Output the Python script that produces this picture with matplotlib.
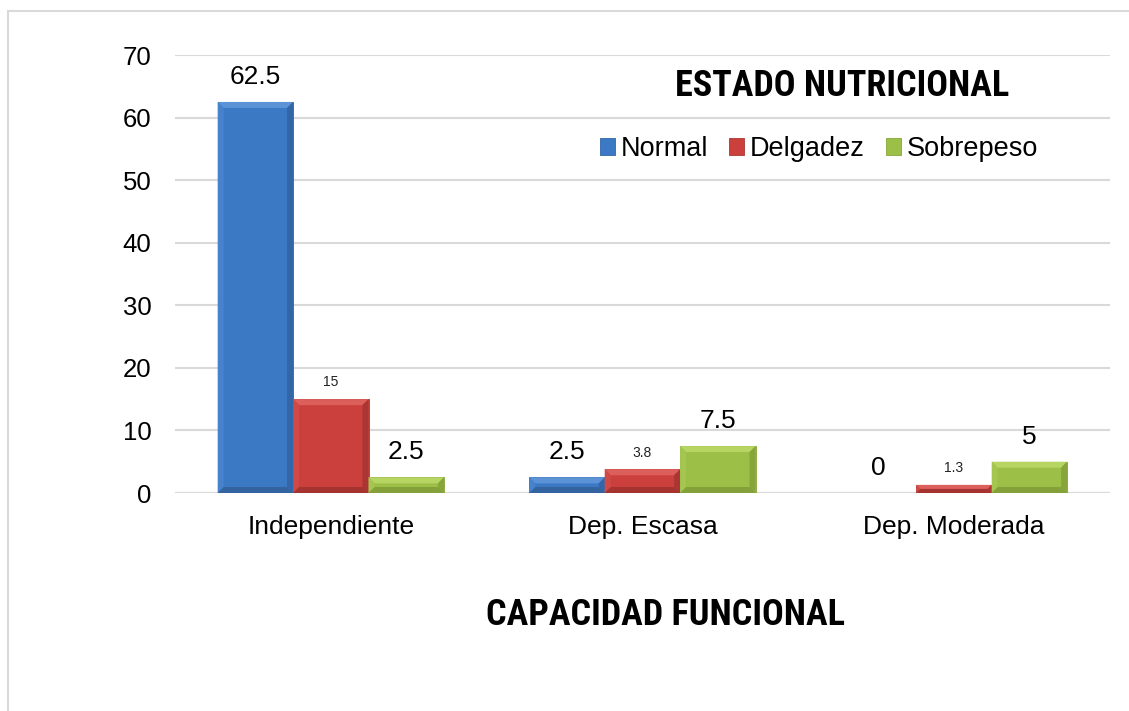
import matplotlib
matplotlib.use('Agg')
import matplotlib.pyplot as plt
import numpy as np
from matplotlib import font_manager
from matplotlib.patches import Rectangle, Polygon

# data
categories = ['Independiente', 'Dep. Escasa', 'Dep. Moderada']
series = ['Normal', 'Delgadez', 'Sobrepeso']
normal = [62.5, 2.5, 0]
delgadez = [15, 3.8, 1.3]
sobrepeso = [2.5, 7.5, 5]
small_label = [False, True, False]   # Delgadez labels are written small

# face, top, left, right, bottom
shades = [['#3c79c4', '#5b93d6', '#4683cc', '#3266a8', '#33649f'],
          ['#cb403d', '#dc5f5c', '#cf4a47', '#a93633', '#a53431'],
          ['#9cbf47', '#b7d563', '#a4c650', '#86a53b', '#83a039']]

names = {f.name for f in font_manager.fontManager.ttflist}
narrow = None
for cand in ['Liberation Sans Narrow', 'Arial Narrow', 'Roboto Condensed', 'Open Sans Condensed']:
    if cand in names:
        narrow = cand
        break
plt.rcParams['font.family'] = ['Liberation Sans', 'DejaVu Sans']

fig = plt.figure(figsize=(11.29, 7.11), dpi=100)
ax = fig.add_axes([0.155, 0.3066, 0.828, 0.616])

# outer frame (light grey, cut at right/bottom)
fig.patches.append(Rectangle((8 / 1129, -0.1), 1.2, 1.1 - 11 / 711,
                             transform=fig.transFigure, fill=False,
                             edgecolor='#d9d9d9', linewidth=1.5))

ax.set_xlim(-0.5, 2.5)
ax.set_ylim(0, 70)

x = np.arange(len(categories))
w = 0.242
all_vals = [normal, delgadez, sobrepeso]
for k, vals in enumerate(all_vals):
    sh = shades[k]
    pos = x + (k - 1) * w
    bars = ax.bar(pos, vals, width=w, color=sh[0], edgecolor=sh[3],
                  linewidth=0.6, label=series[k], zorder=3)
    # bevel look, built from each bar's own extent in pixels
    for b in bars:
        if b.get_height() <= 0:
            b.set_visible(False)
            continue
        (x0, y0), (x1, y1) = ax.transData.transform(
            [(b.get_x(), 0), (b.get_x() + b.get_width(), b.get_height())])
        d = min(6, (y1 - y0) / 2)
        quads = [
            ([(x0, y1), (x1, y1), (x1 - d, y1 - d), (x0 + d, y1 - d)], sh[1]),
            ([(x0, y0), (x0, y1), (x0 + d, y1 - d), (x0 + d, y0 + d)], sh[2]),
            ([(x1, y0), (x1, y1), (x1 - d, y1 - d), (x1 - d, y0 + d)], sh[3]),
            ([(x0, y0), (x1, y0), (x1 - d, y0 + d), (x0 + d, y0 + d)], sh[4]),
        ]
        for pts, c in quads:
            fig.patches.append(Polygon(pts, closed=True, transform=None,
                                       facecolor=c, edgecolor='none', zorder=4))
    for i, v in enumerate(vals):
        if small_label[k]:
            ax.annotate(f'{v:g}', (pos[i], v), xytext=(0, 12), textcoords='offset points',
                        ha='center', va='center', fontsize=10, color='#222222')
        else:
            ax.annotate(f'{v:g}', (pos[i], v), xytext=(0, 18), textcoords='offset points',
                        ha='center', va='center', fontsize=19, color='black')

ax.set_yticks(np.arange(0, 71, 10))
ax.yaxis.grid(True, color='#d9d9d9', linewidth=1.5, zorder=0)
ax.set_axisbelow(True)
for s in ax.spines.values():
    s.set_visible(False)
ax.axhline(0, color='#d9d9d9', linewidth=1.5, zorder=2)
ax.tick_params(axis='y', length=0, pad=17, labelsize=18.5)
ax.tick_params(axis='x', length=0, pad=16, labelsize=19)
ax.set_xticks(x)
ax.set_xticklabels(categories)

leg = ax.legend(loc='center', bbox_to_anchor=(819 / 1129, 1 - 149 / 711),
                bbox_transform=fig.transFigure, ncol=3, frameon=False,
                fontsize=19.5, handlelength=0.55, handleheight=0.55,
                handletextpad=0.2, columnspacing=0.8)

if narrow:
    tfam, tsize, csize = narrow, 26, 26
else:
    tfam, tsize, csize = 'Liberation Sans', 21.5, 21.5
fig.text(842 / 1129, 1 - 86 / 711, 'ESTADO NUTRICIONAL', family=tfam,
         fontweight='bold', fontsize=tsize, ha='center', va='center')
fig.text(665 / 1129, 1 - 615 / 711, 'CAPACIDAD FUNCIONAL', family=tfam,
         fontweight='bold', fontsize=csize, ha='center', va='center')

fig.savefig('out.png', dpi=100)
